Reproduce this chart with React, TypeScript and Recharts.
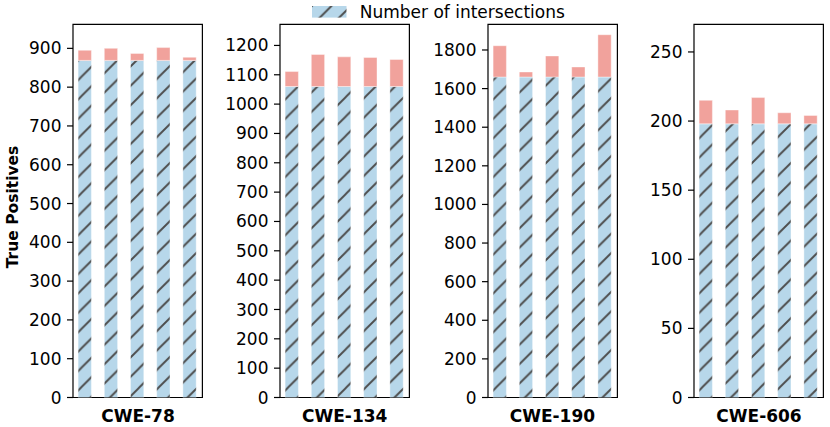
import React from 'react';
import { BarChart, Bar, XAxis, YAxis, ReferenceArea } from 'recharts';

// one panel per CWE class, five runs each
const cwes = ['CWE-78', 'CWE-134', 'CWE-190', 'CWE-606'];
const runs = [0, 1, 2, 3, 4];

const intersect78 = [869, 869, 869, 869, 869];
const total78 = [895, 900, 887, 902, 877];
const intersect134 = [1060, 1060, 1060, 1060, 1060];
const total134 = [1111, 1169, 1161, 1159, 1152];
const intersect190 = [1660, 1660, 1660, 1660, 1660];
const total190 = [1822, 1686, 1769, 1712, 1879];
const intersect606 = [198, 198, 198, 198, 198];
const total606 = [215, 208, 217, 206, 204];

const ticks78 = [0, 100, 200, 300, 400, 500, 600, 700, 800, 900];
const ticks134 = [0, 100, 200, 300, 400, 500, 600, 700, 800, 900, 1000, 1100, 1200];
const ticks190 = [0, 200, 400, 600, 800, 1000, 1200, 1400, 1600, 1800];
const ticks606 = [0, 50, 100, 150, 200, 250];
const yMax = [962, 1272, 1933, 270];
const xDomain: [number, number] = [-0.466, 4.473];

const BLUE = '#b7d7ea';
const RED = '#f1a29c';
const HATCH = '#4d4d4d';
const FONT = "'DejaVu Sans', sans-serif";

const FRAME_LEFT = [73.3, 280, 487.7, 694.3];
const FRAME_W = 129.4;
const AXIS_W = 70;
const H = 19.4; // hatch period

const panels = [
  { base: intersect78, total: total78, ticks: ticks78 },
  { base: intersect134, total: total134, ticks: ticks134 },
  { base: intersect190, total: total190, ticks: ticks190 },
  { base: intersect606, total: total606, ticks: ticks606 },
];

const HatchDef: React.FC<{ id: string }> = ({ id }) => (
  <pattern id={id} patternUnits="userSpaceOnUse" width={H} height={H}>
    <rect width={H} height={H} fill={BLUE} />
    <path
      d={`M0,${H} L${H},0 M${-H / 4},${H / 4} L${H / 4},${-H / 4} M${(3 * H) / 4},${(5 * H) / 4} L${(5 * H) / 4},${(3 * H) / 4}`}
      stroke={HATCH}
      strokeWidth={1.9}
    />
  </pattern>
);

const axisStroke = { stroke: '#000', strokeWidth: 1.2 };

const Panel: React.FC<{ idx: number }> = ({ idx }) => {
  const p = panels[idx];
  const rows = runs.map((r, i) => ({ run: r, inter: p.base[i], extra: p.total[i] - p.base[i] }));
  const domain: [number, number] = [0, yMax[idx]];
  const hid = `hatch-${idx}`;
  return (
    <div style={{ position: 'absolute', left: FRAME_LEFT[idx] - AXIS_W, top: 0 }}>
      <BarChart
        width={AXIS_W + FRAME_W + 3}
        height={427}
        data={rows}
        margin={{ top: 24.3, right: 3, bottom: 29.5, left: 0 }}
        barSize={13.3}
      >
        <defs>
          <HatchDef id={hid} />
        </defs>
        <XAxis
          dataKey="run"
          type="number"
          domain={xDomain}
          allowDataOverflow
          tick={false}
          tickLine={false}
          height={0}
          axisLine={false}
        />
        <YAxis
          type="number"
          domain={domain}
          allowDataOverflow
          ticks={p.ticks}
          width={AXIS_W}
          tickSize={6}
          tickMargin={5.5}
          interval={0}
          axisLine={false}
          tickLine={axisStroke}
          tick={{ fill: '#000', fontSize: 17, fontFamily: FONT }}
        />
        <Bar
          dataKey="inter"
          stackId="a"
          fill={`url(#${hid})`}
          stroke="#ffffff"
          strokeOpacity={0.5}
          strokeWidth={0.8}
          isAnimationActive={false}
        />
        <Bar
          dataKey="extra"
          stackId="a"
          fill={RED}
          stroke="#ffffff"
          strokeOpacity={0.5}
          strokeWidth={0.8}
          isAnimationActive={false}
        />
        <ReferenceArea
          x1={xDomain[0]}
          x2={xDomain[1]}
          y1={0}
          y2={yMax[idx]}
          fill="none"
          fillOpacity={0}
          stroke="#000"
          strokeWidth={1.2}
          strokeOpacity={1}
          ifOverflow="visible"
        />
      </BarChart>
    </div>
  );
};

const App: React.FC = () => (
  <div style={{ position: 'fixed', left: 0, top: 0, width: 830, height: 427, background: '#fff', fontFamily: FONT }}>
    {cwes.map((c, i) => (
      <Panel key={c} idx={i} />
    ))}
    {cwes.map((c, i) => (
      <div
        key={`lbl-${c}`}
        style={{
          position: 'absolute',
          left: FRAME_LEFT[i],
          width: FRAME_W,
          top: 407,
          textAlign: 'center',
          fontWeight: 'bold',
          fontSize: 17,
          lineHeight: '18px',
        }}
      >
        {c}
      </div>
    ))}
    <div
      style={{
        position: 'absolute',
        left: 13,
        top: 207,
        transform: 'translate(-50%, -50%) rotate(-90deg)',
        fontWeight: 'bold',
        fontSize: 15.5,
        whiteSpace: 'nowrap',
        lineHeight: '18px',
      }}
    >
      True Positives
    </div>
    <div style={{ position: 'absolute', left: 311.7, top: 3, display: 'flex', alignItems: 'center' }}>
      <svg width={35} height={12} style={{ display: 'block' }}>
        <defs>
          <HatchDef id="hatch-legend" />
        </defs>
        <rect x={0} y={0} width={34.5} height={11.6} fill="url(#hatch-legend)" />
      </svg>
      <span style={{ marginLeft: 13, fontSize: 17, lineHeight: '18px' }}>Number of intersections</span>
    </div>
  </div>
);

export default App;
